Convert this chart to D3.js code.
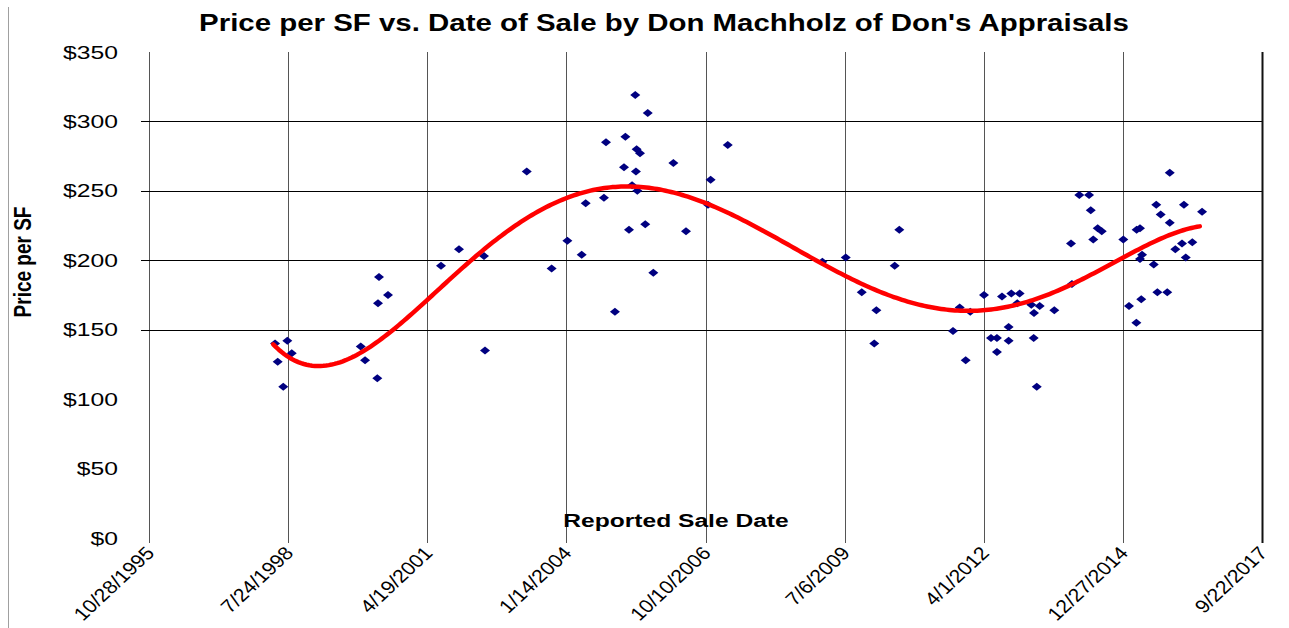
<!DOCTYPE html>
<html>
<head>
<meta charset="utf-8">
<script src="https://cdn.jsdelivr.net/npm/d3@7"></script>
<style>
  html, body { margin: 0; padding: 0; background: #fff; }
  svg { display: block; font-family: Arial, "Liberation Sans", sans-serif; }
</style>
</head>
<body>
<svg id="chart" width="1289" height="628"></svg>
<script>
// ---- Data (x = Excel date serial of the reported sale date, y = price per SF) ----
const saleSerial = [
  35906, 35994, 36026, 35925, 35965, 36522, 36553, 36641, 37415,
  36653, 36646, 36718, 37099, 37228, 37408,
  37715, 37894, 38007, 38110, 38139, 38270, 38285, 38349, 38424, 38414,
  38450, 38495, 38505, 38529, 38500, 38472, 38510, 38567, 38585, 38625,
  38769, 38860, 39037, 39018, 39160,
  39840, 40008, 40393, 40360, 40123, 40228, 40213, 40779, 40827, 40903,
  40870, 41002, 41052, 41095, 41095, 41131, 41179, 41179, 41198, 41258,
  41241, 41342, 41402, 41361, 41359, 41381, 41507,
  41627, 41634, 41687, 41757, 41769, 41819, 41848, 41787, 42003, 42044,
  42097, 42132, 42099, 42123, 42123, 42138, 42222, 42240, 42272, 42248,
  42319, 42337, 42337, 42377, 42425, 42439, 42452, 42499, 42569
];
const pricePerSF = [
  140, 142, 133, 127, 109, 138, 128, 115, 135,
  188, 169, 175, 196, 208, 203,
  264, 194, 214, 204, 241, 245, 285, 163, 289, 267,
  222, 319, 280, 277, 264, 254, 250, 226, 306, 191,
  270, 221, 258, 240, 283,
  199, 202, 222, 196, 177, 164, 140, 149, 166, 163,
  128, 175, 144, 144, 134, 174, 152, 142, 176, 176,
  169, 168, 167, 162, 144, 109, 164,
  212, 183, 247, 247, 236, 223, 221, 215, 215, 167,
  155, 172, 222, 223, 201, 204, 197, 240, 233, 177,
  177, 263, 227, 208, 212, 240, 202, 213, 235
];
// Polynomial trend line
const trendSerial = [
  35893, 36013, 36205, 36373, 36565, 36709, 36828, 37005, 37235, 37523,
  37762, 38002, 38242, 38434, 38601, 38840, 39081, 39392, 39607, 39847,
  39991, 40206, 40446, 40734, 40997, 41237, 41428, 41644, 41884, 42003,
  42243, 42411, 42569
];
const trendValue = [
  138.8, 130.4, 125.2, 126.8, 132.9, 144.8, 156.8, 174.1, 194.2, 216.8,
  233.6, 244.4, 249.9, 252.7, 251.6, 247.3, 239.6, 221.6, 210.8, 198.1,
  188.5, 179.6, 170.5, 164.0, 163.5, 168.8, 173.6, 183.2, 196.4, 201.2,
  214.4, 221.1, 224.5
];
const xTickSerials = [35000, 36000, 37000, 38000, 39000, 40000, 41000, 42000, 43000];
const xTickLabels = ["10/28/1995", "7/24/1998", "4/19/2001", "1/14/2004", "10/10/2006",
                     "7/6/2009", "4/1/2012", "12/27/2014", "9/22/2017"];
const yTickValues = [0, 50, 100, 150, 200, 250, 300, 350];
const yGridValues = [150, 200, 250, 300];
const titleText = "Price per SF vs. Date of Sale by Don Machholz of Don's Appraisals";
const xTitleText = "Reported Sale Date";
const yTitleText = "Price per SF";

// ---- Layout ----
const L = 149, R = 1262, T = 52, B = 538;
const svg = d3.select("#chart");
const x = d3.scaleLinear().domain([35000, 43000]).range([L, R]);
const y = d3.scaleLinear().domain([0, 350]).range([B, T]);

// chart-area left border
svg.append("line").attr("x1", 8.5).attr("x2", 8.5).attr("y1", 7).attr("y2", 628)
  .attr("stroke", "#a0a0a0").attr("stroke-width", 1);

// title
svg.append("text")
  .attr("transform", "translate(664,31) scale(1.28,1)")
  .attr("text-anchor", "middle").attr("font-size", 23).attr("font-weight", "bold")
  .attr("fill", "#000").text(titleText);

// vertical grid lines (with tick extension)
svg.append("g").selectAll("line").data(xTickSerials).join("line")
  .attr("x1", d => Math.round(x(d)) + 0.5).attr("x2", d => Math.round(x(d)) + 0.5)
  .attr("y1", T).attr("y2", B + 5)
  .attr("stroke", "#555").attr("stroke-width", 1);

// horizontal grid lines
svg.append("g").selectAll("line").data(yGridValues).join("line")
  .attr("x1", L - 8).attr("x2", R)
  .attr("y1", d => Math.round(y(d)) + 0.5).attr("y2", d => Math.round(y(d)) + 0.5)
  .attr("stroke", "#000").attr("stroke-width", 1);

// right border
svg.append("line").attr("x1", R + 0.5).attr("x2", R + 0.5).attr("y1", T).attr("y2", B + 5)
  .attr("stroke", "#111").attr("stroke-width", 2);

// x-axis labels
const xAxis = d3.axisBottom(x).tickValues(xTickSerials)
  .tickFormat((d, i) => xTickLabels[i]).tickSize(0);
const gx = svg.append("g").attr("transform", `translate(0,${B})`).call(xAxis);
gx.select(".domain").remove();
gx.selectAll(".tick text")
  .attr("x", 0).attr("y", 0).attr("dy", 0)
  .attr("text-anchor", "end").attr("font-size", 18.5).attr("fill", "#000")
  .attr("font-family", "Arial, 'Liberation Sans', sans-serif")
  .attr("transform", "translate(6,16) scale(1.15,1) rotate(-47)");

// y-axis labels
const yAxis = d3.axisLeft(y).tickValues(yTickValues).tickFormat(d3.format("$")).tickSize(0);
const gy = svg.append("g").attr("transform", `translate(${L},0)`).call(yAxis);
gy.select(".domain").remove();
gy.selectAll(".tick text")
  .attr("x", 0).attr("dy", 0)
  .attr("text-anchor", "end").attr("font-size", 19).attr("fill", "#000")
  .attr("font-family", "Arial, 'Liberation Sans', sans-serif")
  .attr("transform", "translate(-31,6) scale(1.3,1)");

// axis titles
svg.append("text")
  .attr("transform", "translate(676,527) scale(1.33,1)")
  .attr("text-anchor", "middle").attr("font-size", 18.5).attr("font-weight", "bold")
  .attr("fill", "#000").text(xTitleText);
svg.append("text")
  .attr("transform", "translate(31,262) scale(1.25,1) rotate(-90)")
  .attr("text-anchor", "middle").attr("font-size", 19).attr("font-weight", "bold")
  .attr("fill", "#000").text(yTitleText);

// scatter points (diamonds)
const pts = saleSerial.map((s, i) => ({ s, v: pricePerSF[i] }));
const hw = 5, hh = 4;
svg.append("g").selectAll("path").data(pts).join("path")
  .attr("d", d => {
    const cx = x(d.s), cy = y(d.v);
    return `M${cx},${cy - hh}L${cx + hw},${cy}L${cx},${cy + hh}L${cx - hw},${cy}Z`;
  })
  .attr("fill", "#000080");

// trend line: smooth least-squares polynomial through the read trend points
function polyFit(xs, ys, deg) {
  const n = deg + 1;
  const A = Array.from({ length: n }, () => new Array(n + 1).fill(0));
  xs.forEach((xv, k) => {
    const p = [];
    for (let i = 0; i < n; i++) p.push(Math.pow(xv, i));
    for (let i = 0; i < n; i++) {
      for (let j = 0; j < n; j++) A[i][j] += p[i] * p[j];
      A[i][n] += p[i] * ys[k];
    }
  });
  for (let c = 0; c < n; c++) {
    let piv = c;
    for (let r = c + 1; r < n; r++) if (Math.abs(A[r][c]) > Math.abs(A[piv][c])) piv = r;
    [A[c], A[piv]] = [A[piv], A[c]];
    for (let r = 0; r < n; r++) {
      if (r === c) continue;
      const f = A[r][c] / A[c][c];
      for (let k = c; k <= n; k++) A[r][k] -= f * A[c][k];
    }
  }
  return A.map((row, i) => row[n] / row[i]);
}
const s0 = trendSerial[0], s1 = trendSerial[trendSerial.length - 1];
const norm = s => (2 * (s - s0) / (s1 - s0)) - 1;
const coef = polyFit(trendSerial.map(norm), trendValue, 6);
const evalPoly = s => { const t = norm(s); return coef.reduce((acc, c, i) => acc + c * Math.pow(t, i), 0); };
const curveSerials = d3.range(s0, s1 + 1, 20);
svg.append("path").datum(curveSerials)
  .attr("d", d3.line().x(s => x(s)).y(s => y(evalPoly(s))))
  .attr("fill", "none").attr("stroke", "#ff0000").attr("stroke-width", 4.5)
  .attr("stroke-linecap", "round").attr("stroke-linejoin", "round");
</script>
</body>
</html>
